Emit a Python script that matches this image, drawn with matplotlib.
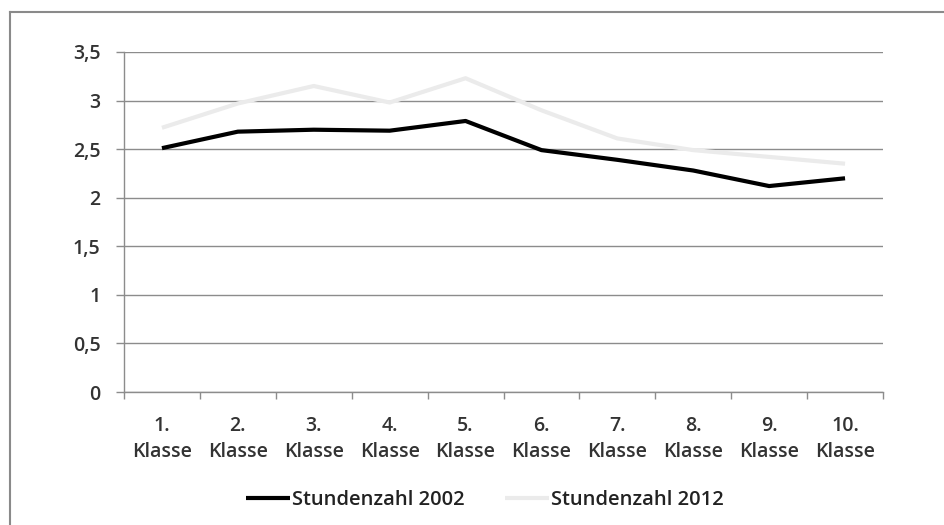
import matplotlib.pyplot as plt
import matplotlib.ticker as mticker
from matplotlib.lines import Line2D

# Stundenzahl je Klassenstufe
klassen = ['1.', '2.', '3.', '4.', '5.', '6.', '7.', '8.', '9.', '10.']
stunden_2002 = [2.51, 2.68, 2.70, 2.69, 2.79, 2.49, 2.39, 2.28, 2.12, 2.20]
stunden_2012 = [2.72, 2.97, 3.15, 2.98, 3.23, 2.90, 2.61, 2.49, 2.42, 2.35]
y_ticks = [0, 0.5, 1, 1.5, 2, 2.5, 3, 3.5]

plt.rcParams['font.family'] = ['Open Sans', 'DejaVu Sans']
plt.rcParams['font.weight'] = 'semibold'

fig = plt.figure(figsize=(9.44, 5.25), dpi=100)
ax = fig.add_axes([124 / 944, 133 / 525, 759 / 944, 340 / 525])

x = list(range(len(klassen)))
ax.plot(x, stunden_2002, color='black', lw=3.0, label='Stundenzahl 2002',
        solid_capstyle='butt', zorder=4)
ax.plot(x, stunden_2012, color='#ebebeb', lw=3.0, label='Stundenzahl 2012',
        solid_capstyle='butt', zorder=3)

ax.set_xlim(-0.5, len(klassen) - 0.5)
ax.set_ylim(0, 3.5)

# Horizontal grid
ax.set_yticks(y_ticks)
ax.yaxis.set_major_formatter(mticker.FuncFormatter(lambda v, p: f'{v:g}'.replace('.', ',')))
ax.grid(axis='y', color='#8c8c8c', lw=1.0, zorder=1)

# Category labels, tick marks between categories
ax.set_xticks(x)
ax.set_xticklabels([f'{k}\nKlasse' for k in klassen], linespacing=1.4)
ax.xaxis.set_minor_locator(mticker.FixedLocator([i - 0.5 for i in range(len(klassen) + 1)]))
ax.tick_params(axis='x', which='major', length=0, pad=17, labelsize=14, labelcolor='#333333')
ax.tick_params(axis='x', which='minor', length=5, color='#8c8c8c', width=1)
ax.tick_params(axis='y', length=6, color='#8c8c8c', width=1, pad=11, labelsize=14,
               labelcolor='#333333')

for side in ['top', 'right']:
    ax.spines[side].set_visible(False)
for side in ['left', 'bottom']:
    ax.spines[side].set_color('#8c8c8c')
    ax.spines[side].set_linewidth(1.0)

fig.legend(loc='center', bbox_to_anchor=(485 / 944, 1 - 500 / 525), ncol=2,
           frameon=False, fontsize=14.5, handlelength=2.2, handletextpad=0.1,
           columnspacing=2.0, labelcolor='#222222')

# Frame lines at the left and top edge
fig.add_artist(Line2D([10 / 944, 10 / 944], [0, 1 - 12 / 525], transform=fig.transFigure,
                      color='#8a8a8a', lw=1.5))
fig.add_artist(Line2D([10 / 944, 1], [1 - 12 / 525, 1 - 12 / 525], transform=fig.transFigure,
                      color='#8a8a8a', lw=1.5))

fig.savefig('out.png', dpi=100)
